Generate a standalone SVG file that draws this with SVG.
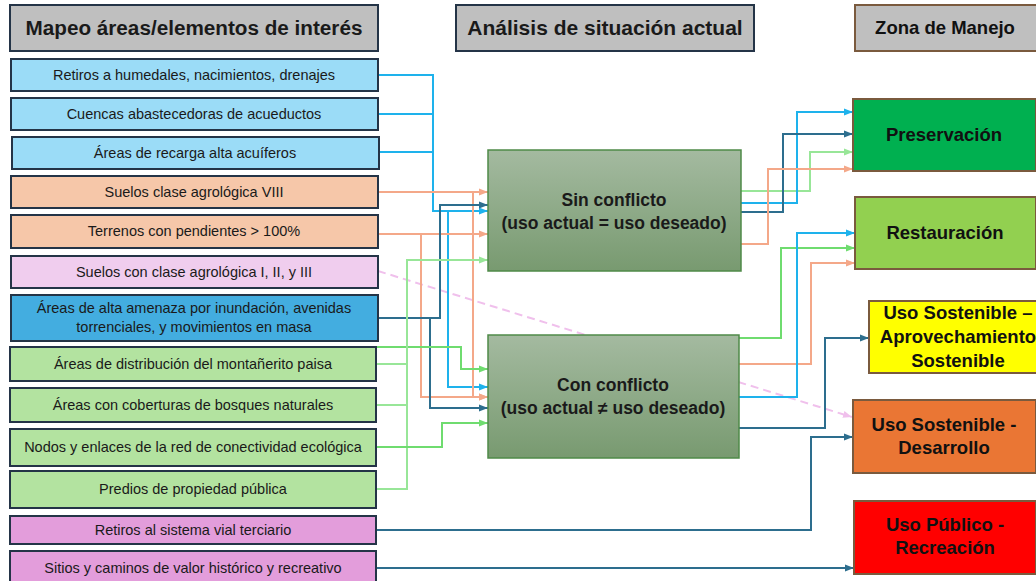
<svg xmlns="http://www.w3.org/2000/svg" width="1036" height="581" viewBox="0 0 1036 581">
<style>
text{font-family:"Liberation Sans",Arial,sans-serif;fill:#1a1a1a;text-anchor:middle}
.hd{font-size:20.7px;font-weight:bold}
.lb{font-size:14.5px}
.mid{font-size:17.5px;font-weight:bold}
.zn{font-size:18.5px;font-weight:bold;fill:#111}
.lbox{stroke:#243447;stroke-width:2}
.zbox{stroke:#7a5a3e;stroke-width:2}
.mbox{stroke:#4f8a48;stroke-width:1.5;fill:url(#gm)}
.c{fill:none;stroke-width:2}
.blue{stroke:#1eb2ec}
.teal{stroke:#2d6e8e}
.org{stroke:#f4a889}
.grn{stroke:#6fdc6f}
.lgr{stroke:#98e698}
</style>
<defs>
<linearGradient id="gm" x1="0" y1="0" x2="0" y2="1">
<stop offset="0" stop-color="#a4baa0"/>
<stop offset="1" stop-color="#789a70"/>
</linearGradient>
<marker id="ab" markerUnits="userSpaceOnUse" markerWidth="9" markerHeight="8" viewBox="0 0 9 8" refX="9" refY="4" orient="auto"><path d="M0,0.5 L9,4 L0,7.5z" fill="#1eb2ec"/></marker>
<marker id="at" markerUnits="userSpaceOnUse" markerWidth="9" markerHeight="8" viewBox="0 0 9 8" refX="9" refY="4" orient="auto"><path d="M0,0.5 L9,4 L0,7.5z" fill="#2d6e8e"/></marker>
<marker id="ao" markerUnits="userSpaceOnUse" markerWidth="9" markerHeight="8" viewBox="0 0 9 8" refX="9" refY="4" orient="auto"><path d="M0,0.5 L9,4 L0,7.5z" fill="#f4a889"/></marker>
<marker id="ag" markerUnits="userSpaceOnUse" markerWidth="9" markerHeight="8" viewBox="0 0 9 8" refX="9" refY="4" orient="auto"><path d="M0,0.5 L9,4 L0,7.5z" fill="#6fdc6f"/></marker>
<marker id="alg" markerUnits="userSpaceOnUse" markerWidth="9" markerHeight="8" viewBox="0 0 9 8" refX="9" refY="4" orient="auto"><path d="M0,0.5 L9,4 L0,7.5z" fill="#98e698"/></marker>
<marker id="ap" markerUnits="userSpaceOnUse" markerWidth="9" markerHeight="8" viewBox="0 0 9 8" refX="9" refY="4" orient="auto"><path d="M0,0.5 L9,4 L0,7.5z" fill="#f0c0ec"/></marker>
</defs>
<rect width="1036" height="581" fill="#ffffff"/>

<g id="connectors">
<path class="c" d="M378,271 L852,417" stroke="#f0c0ec" stroke-dasharray="8 5" marker-end="url(#ap)"/>
<path class="c blue" d="M378,75 H433 V211 H488" marker-end="url(#ab)"/>
<path class="c blue" d="M378,114 H433"/>
<path class="c blue" d="M379,152 H433"/>
<path class="c blue" d="M448,211 V387 H488" marker-end="url(#ab)"/>
<path class="c org" d="M378,192 H488" marker-end="url(#ao)"/>
<path class="c org" d="M473,192 V397 H488" marker-end="url(#ao)"/>
<path class="c org" d="M378,234 H488" marker-end="url(#ao)"/>
<path class="c org" d="M421,234 V397 H488" marker-end="url(#ao)"/>
<path class="c teal" d="M378,318 H440 V205 H488" marker-end="url(#at)"/>
<path class="c teal" d="M430,318 V408 H488" marker-end="url(#at)"/>
<path class="c grn" d="M376,347 H461 V369 H488" marker-end="url(#ag)"/>
<path class="c lgr" d="M376,364 H407"/>
<path class="c lgr" d="M376,405 H407"/>
<path class="c lgr" d="M376,489 H407 V260 H488" marker-end="url(#alg)"/>
<path class="c grn" d="M376,447 H442 V423 H488" marker-end="url(#ag)"/>
<path class="c teal" d="M376,530 H811 V437 H853" marker-end="url(#at)"/>
<path class="c teal" d="M376,568 H854" marker-end="url(#at)"/>
<path class="c lgr" d="M741,191 H810 V152 H853" marker-end="url(#alg)"/>
<path class="c blue" d="M741,203 H797 V112 H853" marker-end="url(#ab)"/>
<path class="c teal" d="M741,212 H783 V134 H853" marker-end="url(#at)"/>
<path class="c org" d="M741,244 H768 V169 H853" marker-end="url(#ao)"/>
<path class="c grn" d="M739,338 H781 V248 H855" marker-end="url(#ag)"/>
<path class="c org" d="M739,364 H811 V263 H855" marker-end="url(#ao)"/>
<path class="c blue" d="M739,397 H797 V233 H855" marker-end="url(#ab)"/>
<path class="c teal" d="M739,428 H825 V338 H869" marker-end="url(#at)"/>
</g>

<g id="h-mapeo"><rect class="lbox" x="10" y="5" width="368" height="46" fill="#bfbfbf"/><text class="hd" x="194" y="35">Mapeo áreas/elementos de interés</text></g>
<g id="h-analisis"><rect class="lbox" x="456" y="5" width="298" height="46" fill="#bfbfbf"/><text class="hd" x="605" y="35" style="font-size:21px">Análisis de situación actual</text></g>
<g id="h-zona"><rect class="zbox" x="855" y="5" width="182" height="46" fill="#bfbfbf"/><text class="zn" x="945" y="34">Zona de Manejo</text></g>

<g id="n1"><rect class="lbox" x="11" y="59" width="367" height="32" fill="#9bdcf7"/><text class="lb" x="194" y="80">Retiros a humedales, nacimientos, drenajes</text></g>
<g id="n2"><rect class="lbox" x="11" y="98" width="367" height="32" fill="#9bdcf7"/><text class="lb" x="194" y="119">Cuencas abastecedoras de acueductos</text></g>
<g id="n3"><rect class="lbox" x="12" y="137" width="367" height="32" fill="#9bdcf7"/><text class="lb" x="195" y="158">Áreas de recarga alta acuíferos</text></g>
<g id="n4"><rect class="lbox" x="11" y="176" width="367" height="32" fill="#f6c7a9"/><text class="lb" x="194" y="197">Suelos clase agrológica VIII</text></g>
<g id="n5"><rect class="lbox" x="11" y="215" width="367" height="33" fill="#f6c7a9"/><text class="lb" x="194" y="236">Terrenos con pendientes &gt; 100%</text></g>
<g id="n6"><rect class="lbox" x="11" y="256" width="367" height="32" fill="#f0cdee"/><text class="lb" x="194" y="277">Suelos con clase agrológica I, II, y III</text></g>
<g id="n7"><rect class="lbox" x="11" y="295" width="367" height="46" fill="#43ade0"/><text class="lb" x="194" y="313">Áreas de alta amenaza por inundación, avenidas</text><text class="lb" x="194" y="332">torrenciales, y movimientos en masa</text></g>
<g id="n8"><rect class="lbox" x="10" y="347" width="366" height="34" fill="#b3e3a0"/><text class="lb" x="193" y="369">Áreas de distribución del montañerito paisa</text></g>
<g id="n9"><rect class="lbox" x="10" y="388" width="366" height="34" fill="#b3e3a0"/><text class="lb" x="193" y="410">Áreas con coberturas de bosques naturales</text></g>
<g id="n10"><rect class="lbox" x="10" y="429" width="366" height="37" fill="#b3e3a0"/><text class="lb" x="193" y="452">Nodos y enlaces de la red de conectividad ecológica</text></g>
<g id="n11"><rect class="lbox" x="10" y="471" width="366" height="37" fill="#b3e3a0"/><text class="lb" x="193" y="494">Predios de propiedad pública</text></g>
<g id="n12"><rect class="lbox" x="10" y="516" width="366" height="28" fill="#e39ddb"/><text class="lb" x="193" y="535">Retiros al sistema vial terciario</text></g>
<g id="n13"><rect class="lbox" x="10" y="551" width="366" height="34" fill="#e39ddb"/><text class="lb" x="193" y="573">Sitios y caminos de valor histórico y recreativo</text></g>

<g id="sin"><rect class="mbox" x="488" y="150" width="253" height="121"/><text class="mid" x="614" y="206">Sin conflicto</text><text class="mid" x="614" y="229">(uso actual = uso deseado)</text></g>
<g id="con"><rect class="mbox" x="488" y="335" width="251" height="123"/><text class="mid" x="613" y="391">Con conflicto</text><text class="mid" x="613" y="414">(uso actual ≠ uso deseado)</text></g>

<g id="z-pres"><rect class="zbox" x="853" y="99" width="183" height="72" fill="#00b050"/><text class="zn" x="944" y="141">Preservación</text></g>
<g id="z-rest"><rect class="zbox" x="855" y="197" width="181" height="72" fill="#92d050"/><text class="zn" x="945" y="239">Restauración</text></g>
<g id="z-aprov"><rect class="zbox" x="869" y="301" width="180" height="72" fill="#ffff00"/><text class="zn" x="958" y="319">Uso Sostenible –</text><text class="zn" x="958" y="343">Aprovechamiento</text><text class="zn" x="958" y="367">Sostenible</text></g>
<g id="z-desa"><rect class="zbox" x="853" y="400" width="183" height="73" fill="#ea7634"/><text class="zn" x="944" y="431">Uso Sostenible -</text><text class="zn" x="944" y="454">Desarrollo</text></g>
<g id="z-recr"><rect class="zbox" x="854" y="501" width="182" height="73" fill="#ff0000"/><text class="zn" x="945" y="531">Uso Público -</text><text class="zn" x="945" y="554">Recreación</text></g>
</svg>
